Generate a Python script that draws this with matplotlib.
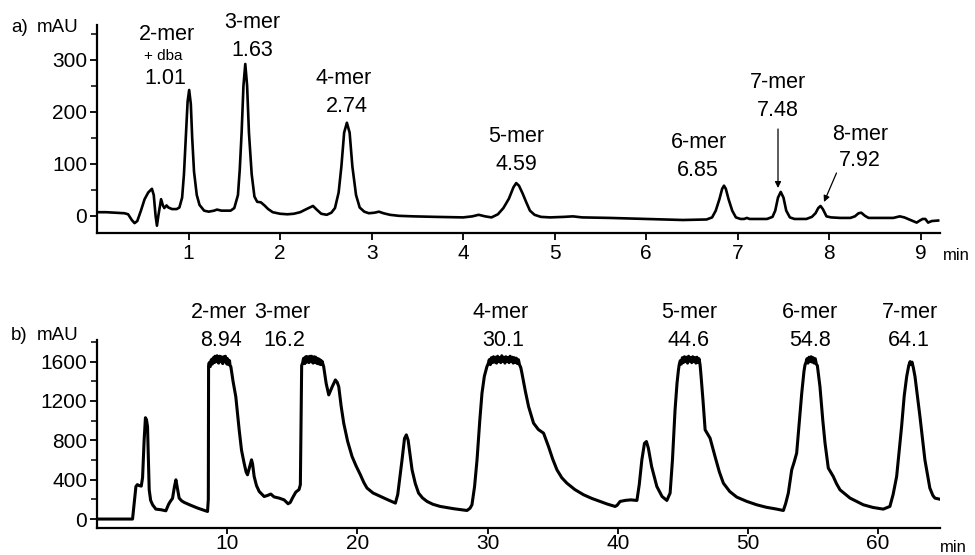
import matplotlib
matplotlib.use("Agg")
import matplotlib.pyplot as plt
from matplotlib.ticker import MultipleLocator

plt.rcParams['font.family'] = ['Liberation Sans', 'DejaVu Sans']

# ---------------- data: panel a ----------------
top_t = [0.00, 0.10, 0.20, 0.30, 0.34, 0.38, 0.41, 0.44, 0.48, 0.52, 0.56, 0.60, 0.62, 0.64, 0.655,
         0.67, 0.70, 0.72, 0.735, 0.76, 0.78, 0.82, 0.87, 0.90, 0.93, 0.95, 0.97, 0.99, 1.007, 1.025,
         1.04, 1.06, 1.09, 1.12, 1.17, 1.22, 1.28, 1.31, 1.36, 1.46, 1.50, 1.54, 1.56, 1.58, 1.60,
         1.62, 1.64, 1.66, 1.69, 1.72, 1.75, 1.79, 1.83, 1.87, 1.92, 2.00, 2.08, 2.15, 2.22, 2.30,
         2.36, 2.40, 2.45, 2.51, 2.56, 2.60, 2.64, 2.67, 2.70, 2.73, 2.76, 2.79, 2.83, 2.87, 2.92,
         2.97, 3.03, 3.08, 3.13, 3.20, 3.30, 3.46, 3.70, 4.00, 4.10, 4.17, 4.24, 4.31, 4.38, 4.44,
         4.50, 4.55, 4.58, 4.61, 4.65, 4.69, 4.73, 4.78, 4.85, 4.95, 5.10, 5.20, 5.30, 5.60, 6.00,
         6.40, 6.66, 6.72, 6.76, 6.80, 6.83, 6.85, 6.87, 6.90, 6.94, 6.98, 7.03, 7.07, 7.10, 7.13,
         7.32, 7.38, 7.41, 7.44, 7.47, 7.50, 7.53, 7.57, 7.62, 7.75, 7.81, 7.85, 7.88, 7.905, 7.93,
         7.97, 8.02, 8.12, 8.23, 8.28, 8.32, 8.35, 8.39, 8.43, 8.55, 8.70, 8.77, 8.82, 8.90, 8.955,
         8.99, 9.02, 9.05, 9.08, 9.12, 9.19]
top_v = [7, 7, 6, 5, 3, -8, -14, -10, 10, 32, 45, 52, 40, 0, -19,
         0, 32, 20, 15, 20, 16, 13, 13, 16, 35, 80, 150, 220, 242, 215,
         150, 85, 40, 21, 10, 8, 10, 12, 10, 10, 15, 40, 90, 160, 250,
         292, 250, 160, 80, 37, 27, 26, 20, 13, 7, 4, 3, 4, 7, 14,
         19, 12, 4, 2, 6, 15, 45, 95, 160, 179, 160, 95, 40, 16, 8,
         5, 6, 8, 5, 2, 0, -1, -2, -3, -1, 2, -1, -3, 3, 15,
         33, 55, 63, 58, 43, 26, 10, 2, -2, -3, -2, -1, -3, -4, -6,
         -8, -7, -3, 10, 32, 52, 58, 52, 32, 10, -3, -6, -6, -4, -6,
         -6, -2, 10, 35, 46, 35, 10, -3, -6, -6, -2, 5, 15, 19, 13,
         -1, -3, -4, -4, -1, 5, 6, 0, -4, -4, -4, -1, -3, -9, -13,
         -9, -6, -6, -13, -10, -9]

top_labels = ["2-mer", "3-mer", "4-mer", "5-mer", "6-mer", "7-mer", "8-mer"]
top_times = ["1.01", "1.63", "2.74", "4.59", "6.85", "7.48", "7.92"]

# ---------------- data: panel b ----------------
bot_t = [0.15, 1.0, 2.0, 2.73, 2.85, 2.99, 3.10, 3.24, 3.40, 3.50, 3.62, 3.72, 3.80, 3.88, 3.95,
         4.01, 4.12, 4.27, 4.52, 4.90, 5.29, 5.50, 5.63, 5.80, 5.95, 6.06, 6.15, 6.31, 6.50, 6.70,
         7.20, 7.72, 8.10, 8.49, 8.55, 8.57,
         8.62, 8.66, 8.70, 8.74, 8.78, 8.82, 8.86, 8.90, 8.94, 8.98, 9.02, 9.06, 9.10, 9.14, 9.18,
         9.22, 9.26, 9.30, 9.34, 9.38, 9.42, 9.46, 9.50, 9.54, 9.58, 9.62, 9.66, 9.70, 9.74, 9.78,
         9.82, 9.86, 9.90, 9.94, 9.98, 10.02, 10.06, 10.10, 10.14, 10.18, 10.22, 10.28,
         10.45, 10.66, 10.92, 11.10, 11.30, 11.45, 11.56, 11.70, 11.87, 11.95, 12.07, 12.25, 12.46,
         12.84, 13.10, 13.35, 13.60, 13.99, 14.37, 14.68, 14.85, 15.01, 15.27, 15.52, 15.62, 15.72,
         15.80, 15.84, 15.88, 15.92, 15.96, 16.00, 16.04, 16.08, 16.12, 16.16, 16.20, 16.24, 16.28,
         16.32, 16.36, 16.40, 16.44, 16.48, 16.52, 16.56, 16.60, 16.64, 16.68, 16.72, 16.76, 16.80,
         16.84, 16.88, 16.92, 16.96, 17.00, 17.04, 17.08, 17.12, 17.16, 17.20, 17.24, 17.28, 17.32,
         17.41,
         17.60, 17.80, 18.05, 18.31, 18.45, 18.57, 18.75, 18.95, 19.25, 19.59, 19.90, 20.23, 20.50,
         20.74, 21.20, 21.77, 22.35, 22.92, 23.10, 23.43, 23.62, 23.76, 23.90, 24.20, 24.45, 24.70,
         25.00, 25.35, 25.80, 26.37, 27.40, 28.42, 28.65, 28.80, 29.00, 29.19, 29.40, 29.57, 29.75,
         29.95,
         30.05, 30.13, 30.21, 30.29, 30.37, 30.45, 30.53, 30.61, 30.69, 30.77, 30.85, 30.93, 31.01,
         31.09, 31.17, 31.25, 31.33, 31.41, 31.49, 31.57, 31.65, 31.73, 31.81, 31.89, 31.97, 32.05,
         32.13, 32.21, 32.29, 32.37, 32.45, 32.55,
         32.64, 32.90, 33.15, 33.53, 33.90, 34.30, 34.68, 35.00, 35.33, 35.70, 36.09, 36.70, 37.37,
         38.00, 38.65, 39.20, 39.80, 39.95, 40.18, 40.60, 41.00, 41.47, 41.65, 41.85, 42.05, 42.20,
         42.35, 42.60, 43.00, 43.40, 43.77, 44.02, 44.20, 44.40, 44.55, 44.66,
         44.72, 44.80, 44.88, 44.96, 45.04, 45.12, 45.20, 45.28, 45.36, 45.44, 45.52, 45.60, 45.68,
         45.76, 45.84, 45.92, 46.00, 46.08, 46.16, 46.24, 46.32,
         46.38, 46.55, 46.71, 47.09, 47.47, 47.80, 48.11, 48.60, 49.14, 49.90, 50.67, 51.40, 52.21,
         52.72, 52.90, 53.10, 53.36, 53.55, 53.74, 53.95, 54.13, 54.30, 54.38,
         54.45, 54.53, 54.61, 54.69, 54.77, 54.85, 54.93, 55.01, 55.09, 55.17, 55.25, 55.33,
         55.53, 55.75, 55.92, 56.17, 56.55, 56.80, 57.07, 57.84, 58.86, 59.60, 60.39, 60.90, 61.15,
         61.42, 61.80, 62.00, 62.19, 62.35, 62.45, 62.52, 62.60, 62.70, 62.83, 63.21, 63.59, 63.97,
         64.20, 64.36, 64.69]
bot_v = [0, 0, 0, 0, 150, 331, 350, 340, 335, 420, 800, 1030, 1010, 940, 600,
         297, 190, 145, 101, 95, 84, 150, 179, 210, 330, 399, 330, 213, 185, 169,
         140, 112, 95, 77, 200, 1560,
         1590, 1560, 1550, 1600, 1620, 1580, 1575, 1630, 1640, 1595, 1590, 1655, 1650, 1600, 1600,
         1660, 1645, 1595, 1585, 1640, 1655, 1600, 1605, 1650, 1640, 1590, 1580, 1645, 1650, 1600,
         1600, 1655, 1635, 1585, 1575, 1630, 1620, 1575, 1570, 1610, 1560, 1550,
         1400, 1245, 907, 700, 568, 480, 450, 520, 602, 560, 433, 340, 280,
         229, 240, 254, 225, 213, 195, 155, 170, 213, 274, 300, 350, 1560,
         1590, 1620, 1635, 1585, 1580, 1640, 1650, 1595, 1600, 1650, 1645, 1595, 1590,
         1650, 1655, 1600, 1605, 1655, 1640, 1590, 1585, 1645, 1650, 1595, 1600, 1645,
         1635, 1585, 1580, 1630, 1630, 1580, 1575, 1620, 1615, 1570, 1570, 1605, 1590,
         1550,
         1380, 1262, 1340, 1414, 1390, 1345, 1150, 975, 790, 636, 540, 450, 370,
         315, 265, 230, 195, 162, 250, 602, 820, 856, 800, 500, 360, 264,
         215, 179, 150, 128, 105, 87, 110, 145, 330, 602, 1000, 1279, 1450,
         1550,
         1580, 1620, 1570, 1640, 1590, 1650, 1595, 1645, 1585, 1655, 1600, 1640, 1590,
         1660, 1605, 1645, 1585, 1650, 1600, 1640, 1590, 1655, 1600, 1645, 1585, 1640,
         1590, 1635, 1580, 1620, 1570, 1540,
         1482, 1300, 1143, 975, 910, 873, 737, 610, 500, 420, 365, 300, 247,
         210, 179, 152, 128, 140, 179, 190, 195, 189, 350, 602, 770, 788,
         720, 534, 331, 230, 189, 264, 600, 1110, 1380, 1516,
         1570, 1610, 1575, 1640, 1590, 1650, 1600, 1645, 1585, 1655, 1605, 1640, 1590,
         1650, 1600, 1640, 1585, 1645, 1590, 1630, 1570,
         1482, 1200, 907, 822, 636, 480, 365, 280, 223, 180, 145, 120, 101,
         87, 160, 264, 500, 580, 670, 1000, 1279, 1500, 1566,
         1590, 1630, 1585, 1645, 1600, 1650, 1595, 1640, 1585, 1630, 1575, 1560,
         1346, 1000, 771, 518, 433, 360, 297, 213, 145, 118, 101, 128, 250,
         433, 940, 1250, 1448, 1560, 1600, 1570, 1595, 1540, 1448, 1042, 602, 315,
         240, 213, 203]

bot_labels = ["2-mer", "3-mer", "4-mer", "5-mer", "6-mer", "7-mer"]
bot_times = ["8.94", "16.2", "30.1", "44.6", "54.8", "64.1"]

# ---------------- figure ----------------
W, H = 975, 555
fig = plt.figure(figsize=(W / 100, H / 100), dpi=100)


def fx(px):
    return px / W


def fy(py):
    return 1 - py / H


ax1 = fig.add_axes([fx(97), fy(233), fx(940) - fx(97), fy(25) - fy(233)])
ax2 = fig.add_axes([fx(97), fy(528), fx(940) - fx(97), fy(340) - fy(528)])

for ax in (ax1, ax2):
    for s in ("top", "right"):
        ax.spines[s].set_visible(False)
    for s in ("left", "bottom"):
        ax.spines[s].set_linewidth(1.6)
    ax.tick_params(which="major", direction="out", length=5, width=1.3, labelsize=15, pad=2)
    ax.tick_params(which="minor", direction="out", length=4, width=1.1)
ax1.tick_params(axis="x", pad=3)
ax2.tick_params(axis="x", which="major", length=4, pad=0.5)

ax1.plot(top_t, top_v, color="black", lw=1.9, solid_joinstyle="round")
ax1.set_xlim(0, 9.21)
ax1.set_ylim(-33, 367)
ax1.set_xticks(range(1, 10))
ax1.set_yticks([0, 100, 200, 300])
ax1.yaxis.set_minor_locator(MultipleLocator(50))

ax2.plot(bot_t, bot_v, color="black", lw=2.2, solid_joinstyle="round")
ax2.set_xlim(0, 64.75)
ax2.set_ylim(-91, 1820)
ax2.set_xticks([10, 20, 30, 40, 50, 60])
ax2.set_yticks([0, 400, 800, 1200, 1600])
ax2.yaxis.set_minor_locator(MultipleLocator(200))

# ---------------- annotations (pixel anchors) ----------------
fs = 15.5
top_name_px = [(167, 34), (252, 23), (344, 78), (516, 137), (699, 143), (778, 83), (860, 134)]
top_time_px = [(165, 78), (252, 51), (347, 106), (516, 164), (698, 171), (778, 110), (860, 161)]
for lab, tm, (nx, ny), (tx, ty) in zip(top_labels, top_times, top_name_px, top_time_px):
    fig.text(fx(nx), fy(ny), lab, ha="center", va="center", fontsize=fs)
    fig.text(fx(tx), fy(ty), tm, ha="center", va="center", fontsize=fs)
fig.text(fx(163), fy(56), "+ dba", ha="center", va="center", fontsize=11)

# arrows to 7-mer and 8-mer
arrow_kw = dict(arrowstyle="-|>", lw=0.9, color="black", mutation_scale=9, shrinkA=0, shrinkB=0)
fig.add_artist(matplotlib.patches.FancyArrowPatch((fx(778), fy(129)), (fx(778), fy(188)),
                                                  transform=fig.transFigure, **arrow_kw))
fig.add_artist(matplotlib.patches.FancyArrowPatch((fx(836.5), fy(173)), (fx(824), fy(202)),
                                                  transform=fig.transFigure, **arrow_kw))

bot_name_px = [219, 282, 501, 689, 810, 910]
bot_time_px = [221, 284, 503, 688, 810, 909]
for lab, tm, nx, tx in zip(bot_labels, bot_times, bot_name_px, bot_time_px):
    fig.text(fx(nx), fy(313), lab, ha="center", va="center", fontsize=fs)
    fig.text(fx(tx), fy(341), tm, ha="center", va="center", fontsize=fs)

# axis captions
fig.text(fx(11), fy(28), "a)", ha="left", va="center", fontsize=13.5)
fig.text(fx(37), fy(28), "mAU", ha="left", va="center", fontsize=13.5)
fig.text(fx(11), fy(336), "b)", ha="left", va="center", fontsize=13.5)
fig.text(fx(37), fy(336), "mAU", ha="left", va="center", fontsize=13.5)
fig.text(fx(943), fy(255), "min", ha="left", va="center", fontsize=12)
fig.text(fx(940), fy(547), "min", ha="left", va="center", fontsize=12)

fig.savefig("out.png", dpi=100)
